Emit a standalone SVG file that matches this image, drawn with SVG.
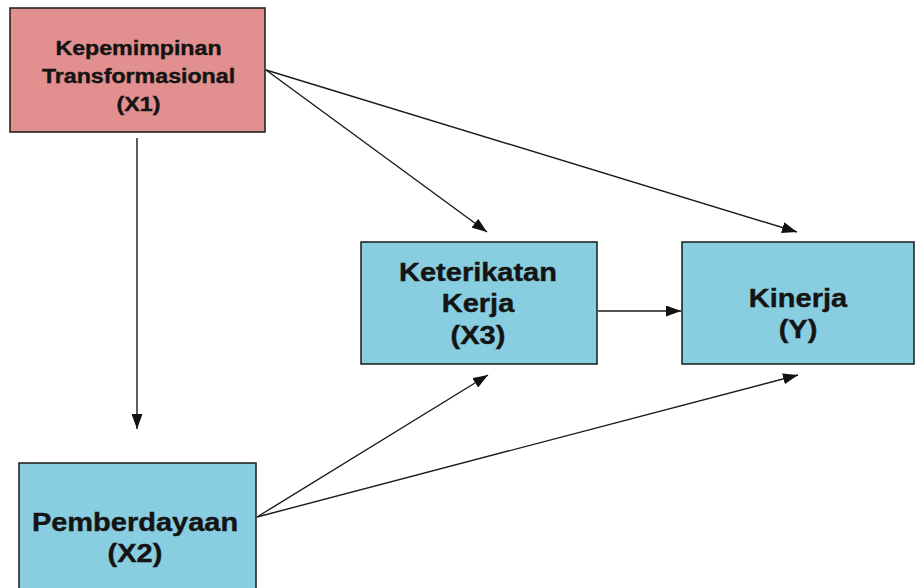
<svg xmlns="http://www.w3.org/2000/svg" width="916" height="588" viewBox="0 0 916 588">
<style>
.box{stroke:#1a1a1a;stroke-width:1.5}
.red{fill:#E28F8F}
.blue{fill:#88CEE0}
text{font-family:"Liberation Sans",Arial,sans-serif;font-weight:bold;fill:#141414;stroke:#141414;stroke-width:0.4;text-anchor:middle}
.s20{font-size:20px}
.s25{font-size:25px}
.con line{stroke:#1a1a1a;stroke-width:1.4;marker-end:url(#ah)}
</style>
<defs>
<marker id="ah" markerUnits="userSpaceOnUse" viewBox="0 0 15 11" refX="15" refY="5.5" markerWidth="15" markerHeight="11" orient="auto">
<path d="M0,0 L15,5.5 L0,11 z" fill="#111"/>
</marker>
</defs>
<rect width="916" height="588" fill="#fff"/>
<g id="x1">
<rect class="box red" x="10" y="8" width="255" height="124"/>
<g transform="translate(138.5,0) scale(1.16,1)">
<text class="s20" x="0" y="55">Kepemimpinan</text>
<text class="s20" x="0" y="83">Transformasional</text>
<text class="s20" x="0" y="111">(X1)</text>
</g>
</g>
<g id="x3">
<rect class="box blue" x="361" y="242" width="236" height="122"/>
<g transform="translate(478,0) scale(1.16,1)">
<text class="s25" x="0" y="281">Keterikatan</text>
<text class="s25" x="0" y="312">Kerja</text>
<text class="s25" x="0" y="344">(X3)</text>
</g>
</g>
<g id="y">
<rect class="box blue" x="682" y="242" width="232" height="122"/>
<g transform="translate(798,0) scale(1.16,1)">
<text class="s25" x="0" y="307">Kinerja</text>
<text class="s25" x="0" y="338">(Y)</text>
</g>
</g>
<g id="x2">
<rect class="box blue" x="19" y="463" width="237" height="140"/>
<g transform="translate(135,0) scale(1.16,1)">
<text class="s25" x="0" y="531">Pemberdayaan</text>
<text class="s25" x="0" y="562">(X2)</text>
</g>
</g>
<g id="connectors" class="con">
<line x1="137" y1="138" x2="137" y2="429"/>
<line x1="266" y1="70" x2="487" y2="232"/>
<line x1="266" y1="70" x2="797" y2="232"/>
<line x1="598" y1="311" x2="681" y2="311"/>
<line x1="257" y1="517" x2="488" y2="375"/>
<line x1="257" y1="517" x2="798" y2="375"/>
</g>
</svg>
